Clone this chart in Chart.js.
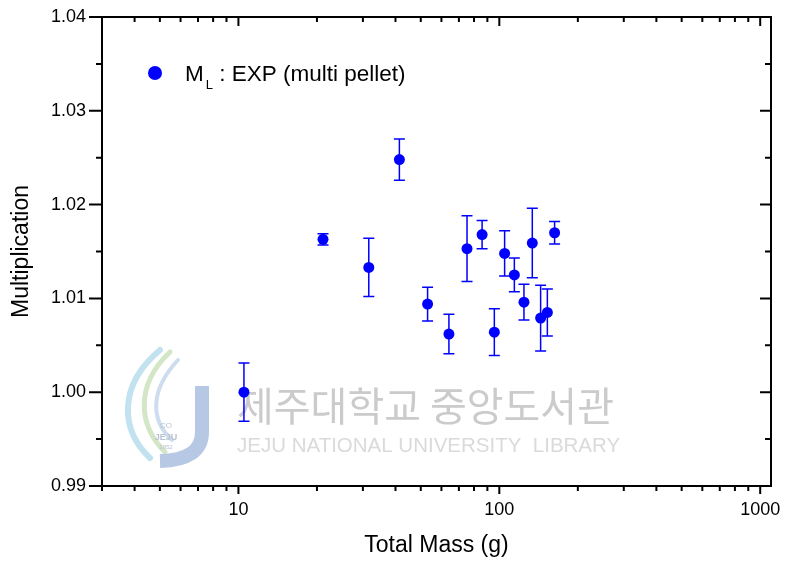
<!DOCTYPE html>
<html>
<head>
<meta charset="utf-8">
<script src="https://cdn.jsdelivr.net/npm/chart.js@4.4.1/dist/chart.umd.min.js"></script>
<style>
  body { margin: 0; background: #fff; }
  #wrap { width: 786px; height: 562px; }
</style>
</head>
<body>
<div id="wrap"><canvas id="multChart" width="786" height="562"></canvas></div>
<script>
// values
let mass = [10.5, 21.1, 31.6, 41.4, 53.1, 64.1, 75.2, 85.9, 95.7, 104.8, 114.2, 124.3, 133.8, 144.0, 152.8, 162.9];
let mult = [1.0000, 1.0163, 1.0133, 1.0248, 1.0094, 1.0062, 1.0153, 1.0168, 1.0064, 1.0148, 1.0125, 1.0096, 1.0159, 1.0079, 1.0085, 1.0170];
let multErr = [0.0031, 0.0006, 0.0031, 0.0022, 0.0018, 0.0021, 0.0035, 0.0015, 0.0025, 0.0024, 0.0018, 0.0019, 0.0037, 0.0035, 0.0025, 0.0012];

let xMajor = [10, 100, 1000];
let xMinor = [3, 4, 5, 6, 7, 8, 9, 20, 30, 40, 50, 60, 70, 80, 90, 200, 300, 400, 500, 600, 700, 800, 900];
let yMajor = [0.99, 1.00, 1.01, 1.02, 1.03, 1.04];
let yMinor = [0.995, 1.005, 1.015, 1.025, 1.035];

const FONT = "'Liberation Sans', Arial, sans-serif";
const BLUE = '#0000ff';

// watermark of the library scan, drawn under the data
const watermark = {
  id: 'watermark',
  beforeDatasetsDraw(chart) {
    const c = chart.ctx;
    c.save();
    // swirl logo
    c.lineCap = 'round';
    c.lineWidth = 6;
    c.strokeStyle = '#c2e2f0';
    c.beginPath();
    c.moveTo(160, 350);
    c.bezierCurveTo(118, 385, 120, 430, 150, 458);
    c.stroke();
    c.strokeStyle = '#d3e6c6';
    c.lineWidth = 5;
    c.beginPath();
    c.moveTo(170, 352);
    c.bezierCurveTo(135, 385, 138, 425, 165, 452);
    c.stroke();
    c.strokeStyle = '#cddcee';
    c.lineWidth = 4;
    c.beginPath();
    c.moveTo(178, 360);
    c.bezierCurveTo(150, 390, 150, 420, 172, 440);
    c.stroke();
    c.strokeStyle = '#b7c8e5';
    c.lineWidth = 14;
    c.lineCap = 'butt';
    c.beginPath();
    c.moveTo(202, 386);
    c.lineTo(202, 432);
    c.quadraticCurveTo(202, 460, 160, 461);
    c.stroke();
    c.fillStyle = '#b9c2d2';
    c.font = "bold 9px " + FONT;
    c.textAlign = 'center';
    c.fillText('JEJU', 166, 440);
    c.font = "6px " + FONT;
    c.fillText('1952', 166, 449);
    c.font = "8px " + FONT;
    c.fillText('CO', 166, 428);
    // text
    c.textAlign = 'left';
    c.fillStyle = '#cbcbcb';
    c.font = "40px 'Noto Sans CJK KR', sans-serif";
    c.textBaseline = 'middle';
    c.fillText('제주대학교 중앙도서관', 237, 406, 380);
    c.fillStyle = '#dadada';
    c.font = "20.5px " + FONT;
    c.textBaseline = 'alphabetic';
    c.fillText('JEJU NATIONAL UNIVERSITY  LIBRARY', 237, 452, 384);
    c.restore();
  }
};

// vertical error bars from the value arrays
const errorBars = {
  id: 'errorBars',
  beforeDatasetsDraw(chart) {
    const c = chart.ctx;
    const xs = chart.scales.x, ys = chart.scales.y;
    c.save();
    c.strokeStyle = BLUE;
    c.lineWidth = 1.5;
    for (let i = 0; i < mass.length; i++) {
      const px = xs.getPixelForValue(mass[i]);
      const top = ys.getPixelForValue(mult[i] + multErr[i]);
      const bot = ys.getPixelForValue(mult[i] - multErr[i]);
      c.beginPath();
      c.moveTo(px, top); c.lineTo(px, bot);
      c.moveTo(px - 5.5, top); c.lineTo(px + 5.5, top);
      c.moveTo(px - 5.5, bot); c.lineTo(px + 5.5, bot);
      c.stroke();
    }
    c.restore();
  }
};

// box frame with Origin style ticks, plus legend
const frame = {
  id: 'frame',
  afterDraw(chart) {
    const c = chart.ctx;
    const a = chart.chartArea;
    const xs = chart.scales.x, ys = chart.scales.y;
    c.save();
    c.strokeStyle = '#000';
    c.lineWidth = 2;
    c.strokeRect(a.left, a.top, a.right - a.left, a.bottom - a.top);
    c.beginPath();
    xMajor.forEach(v => {
      const p = xs.getPixelForValue(v);
      c.moveTo(p, a.bottom); c.lineTo(p, a.bottom + 8);
      c.moveTo(p, a.top); c.lineTo(p, a.top + 9);
    });
    xMinor.forEach(v => {
      const p = xs.getPixelForValue(v);
      c.moveTo(p, a.bottom); c.lineTo(p, a.bottom + 5);
      c.moveTo(p, a.top); c.lineTo(p, a.top + 5);
    });
    yMajor.forEach(v => {
      const p = ys.getPixelForValue(v);
      c.moveTo(a.left, p); c.lineTo(a.left - 13, p);
      c.moveTo(a.right, p); c.lineTo(a.right - 11, p);
    });
    yMinor.forEach(v => {
      const p = ys.getPixelForValue(v);
      c.moveTo(a.left, p); c.lineTo(a.left - 6, p);
      c.moveTo(a.right, p); c.lineTo(a.right - 6, p);
    });
    c.stroke();

    // legend: M with subscript L
    c.fillStyle = BLUE;
    c.beginPath();
    c.arc(155, 73, 7, 0, Math.PI * 2);
    c.fill();
    c.fillStyle = '#000';
    c.textBaseline = 'alphabetic';
    c.font = "22.5px " + FONT;
    c.fillText('M', 185, 81);
    let x = 185 + c.measureText('M').width;
    c.font = "13px " + FONT;
    c.fillText('L', x + 2, 89);
    x += 2 + c.measureText('L').width;
    c.font = "22.5px " + FONT;
    c.fillText(' : EXP (multi pellet)', x, 81);
    c.restore();
  }
};

let ctx = document.getElementById('multChart').getContext('2d');
let multChart = new Chart(ctx, {
  type: 'scatter',
  data: {
    datasets: [{
      label: 'ML : EXP (multi pellet)',
      data: mass.map((m, i) => ({ x: m, y: mult[i] })),
      backgroundColor: BLUE,
      borderColor: BLUE,
      borderWidth: 0,
      pointRadius: 5.5,
      pointHoverRadius: 5.5
    }]
  },
  options: {
    responsive: false,
    animation: false,
    layout: { padding: { top: 17, right: 15, left: 0, bottom: 0 } },
    plugins: {
      legend: { display: false },
      tooltip: { enabled: false }
    },
    scales: {
      x: {
        type: 'logarithmic',
        min: 3,
        max: 1100,
        grid: { display: false, drawTicks: false },
        border: { display: false },
        afterBuildTicks: s => { s.ticks = xMajor.map(v => ({ value: v })); },
        afterFit: s => { s.height = 76; s.paddingLeft = 0; s.paddingRight = 0; },
        ticks: {
          autoSkip: false,
          maxRotation: 0,
          padding: 13,
          color: '#000',
          font: { family: FONT, size: 18 },
          callback: v => String(v)
        },
        title: {
          display: true,
          text: 'Total Mass (g)',
          color: '#000',
          font: { family: FONT, size: 23 },
          padding: { top: 0, bottom: 3 }
        }
      },
      y: {
        min: 0.99,
        max: 1.04,
        grid: { display: false, drawTicks: false },
        border: { display: false },
        afterBuildTicks: s => { s.ticks = yMajor.map(v => ({ value: v })); },
        afterFit: s => { s.width = 102; s.paddingTop = 0; s.paddingBottom = 0; },
        ticks: {
          padding: 16,
          color: '#000',
          font: { family: FONT, size: 18 },
          callback: v => v.toFixed(2)
        },
        title: {
          display: true,
          text: 'Multiplication',
          color: '#000',
          font: { family: FONT, size: 23 },
          padding: { top: 8, bottom: 0 }
        }
      }
    }
  },
  plugins: [watermark, errorBars, frame]
});
</script>
</body>
</html>
